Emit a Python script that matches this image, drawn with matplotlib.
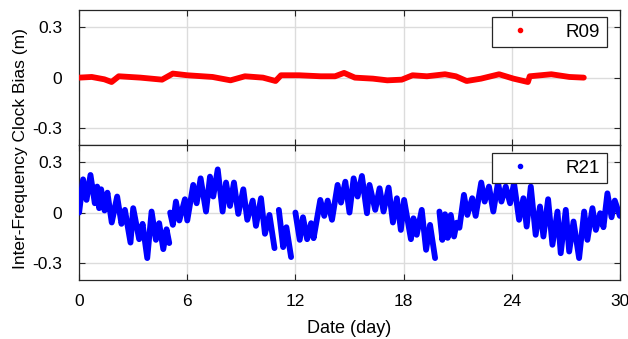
import numpy as np
import matplotlib as mpl
mpl.use('Agg')
import matplotlib.pyplot as plt
from matplotlib.lines import Line2D

plt.rcParams.update({'font.family': ['Liberation Sans', 'DejaVu Sans'],
                     'font.size': 12.5})

# R09 inter-frequency clock bias (m)
r09_day = [0.0, 0.7, 1.4, 1.8, 2.2, 3.4, 4.6, 5.2, 6.0, 7.4, 8.4, 9.2, 10.2,
           10.9, 11.2, 12.2, 13.4, 14.2, 14.7, 15.3, 16.3, 17.1, 17.9, 18.5,
           19.3, 20.3, 20.9, 21.5, 22.3, 23.3, 24.1, 24.9, 25.0, 26.2, 27.2, 28.0]
r09_bias = [0.0, 0.004, -0.01, -0.026, 0.008, 0.0, -0.012, 0.024, 0.014, 0.004,
            -0.016, 0.008, 0.0, -0.02, 0.014, 0.014, 0.008, 0.008, 0.028, 0.0,
            -0.006, -0.016, -0.012, 0.014, 0.008, 0.02, 0.008, -0.02, -0.006,
            0.02, -0.006, -0.026, 0.008, 0.02, 0.004, 0.0]

# R21 turning points (peaks / troughs); nan marks a data gap
r21_day = [0.0, 0.22, 0.41, 0.63, 0.87, 1.0, 1.11, 1.22, 1.41, 1.57, 1.81, 2.11,
           2.35, 2.54, 2.85, 3.0, 3.33, 3.52, 3.78, 4.02, 4.26, 4.44, 4.67, 4.85,
           5.0, np.nan,
           5.05, 5.2, 5.37, 5.56, 5.87, 6.0, 6.33, 6.52, 6.74, 7.04, 7.26, 7.44,
           7.69, 7.96, 8.15, 8.37, 8.59, 8.83, 9.11, 9.33, 9.63, 9.81, 10.09,
           10.31, 10.56, 10.84, np.nan,
           11.08, 11.32, 11.5, 11.76, np.nan,
           12.0, 12.24, 12.42, 12.65, 12.87, 13.01, 13.38, 13.6, 13.79, 14.03,
           14.34, 14.53, 14.77, 15.0, 15.23, 15.45, 15.69, 15.97, 16.11, 16.43,
           16.67, 16.89, 17.17, 17.41, 17.63, 17.85, 18.03, 18.41, 18.55, 18.73,
           19.01, 19.25, 19.47, 19.75, np.nan,
           19.99, 20.15, 20.3, 20.45, 20.62, 20.8, 20.95, 21.1, 21.35, 21.54,
           21.81, 22.0, 22.31, 22.5, 22.74, 22.98, 23.24, 23.43, 23.67, 23.91,
           24.13, 24.41, 24.65, 24.83, 25.06, 25.33, 25.57, 25.76, 26.02, 26.26,
           26.54, 26.72, 27.0, 27.19, 27.43, 27.74, 28.02, 28.2, 28.48, 28.67,
           28.91, 29.09, 29.31, 29.54, 29.72, 30.0]
r21_bias = [0.0, 0.197, 0.075, 0.223, 0.055, 0.154, 0.026, 0.138, 0.012, 0.118,
            -0.059, 0.095, -0.067, 0.016, -0.178, 0.026, -0.158, -0.067, -0.27,
            0.006, -0.162, -0.063, -0.217, -0.099, -0.181, np.nan,
            0.0, -0.073, 0.065, -0.047, 0.079, -0.047, 0.164, 0.055, 0.203,
            0.006, 0.213, 0.095, 0.256, 0.006, 0.178, 0.039, 0.178, -0.008,
            0.138, -0.043, 0.071, -0.079, 0.085, -0.126, -0.014, -0.211, np.nan,
            0.016, -0.205, -0.087, -0.264, np.nan,
            0.0, -0.162, -0.028, -0.158, -0.063, -0.152, 0.075, -0.02, 0.071,
            -0.043, 0.164, 0.059, 0.183, 0.0, 0.203, 0.095, 0.217, -0.004, 0.164,
            0.016, 0.144, 0.006, 0.148, -0.059, 0.085, -0.103, 0.075, -0.158,
            -0.034, -0.132, 0.016, -0.221, -0.073, -0.27, np.nan,
            0.006, -0.162, -0.01, -0.15, -0.014, -0.142, -0.06, -0.09, 0.105,
            -0.014, 0.085, -0.02, 0.178, 0.065, 0.154, 0.006, 0.178, 0.065, 0.154,
            0.055, 0.174, -0.043, 0.085, -0.083, 0.154, -0.132, 0.036, -0.142,
            0.079, -0.191, 0.006, -0.241, 0.016, -0.231, -0.053, -0.27, 0.006,
            -0.162, 0.026, -0.103, -0.004, -0.087, 0.114, -0.028, 0.071, -0.02]

x_ticks = [0, 6, 12, 18, 24, 30]
y_ticks = [-0.3, 0, 0.3]
y_ticklabels = ['-0.3', '0', '0.3']

fig = plt.figure(figsize=(6.28, 3.39), dpi=100)
left, right = 0.126, 0.987
bottom, mid, top = 0.174, 0.572, 0.970
ax1 = fig.add_axes([left, mid, right - left, top - mid])
ax2 = fig.add_axes([left, bottom, right - left, mid - bottom], sharex=ax1)

series = [(ax1, r09_day, r09_bias, '#ff0000', 'R09', 0.948),
          (ax2, r21_day, r21_bias, '#0000ff', 'R21', 0.941)]
for ax, d, b, c, name, ytop in series:
    ax.plot(d, b, color=c, linewidth=4.2, solid_joinstyle='round',
            solid_capstyle='round', zorder=3)
    ax.set_xlim(0, 30)
    ax.set_ylim(-0.4, 0.4)
    ax.set_xticks(x_ticks)
    ax.set_yticks(y_ticks)
    ax.set_yticklabels(y_ticklabels)
    ax.grid(True, color='#dcdcdc', linewidth=1.0)
    ax.set_axisbelow(True)
    ax.tick_params(direction='in', top=True, right=True, length=4,
                   width=0.8, color='#262626', labelsize=12.5)
    ax.tick_params(axis='y', pad=12)
    ax.tick_params(axis='x', pad=10)
    for s in ax.spines.values():
        s.set_color('#262626')
        s.set_linewidth(0.9)
    handle = Line2D([], [], linestyle='none', marker='.', color=c,
                    markersize=6)
    leg = ax.legend([handle], [name], loc='upper right',
                    bbox_to_anchor=(0.976, ytop), borderaxespad=0,
                    fancybox=False, framealpha=1, edgecolor='#262626',
                    fontsize=13.5, handlelength=2.3, handletextpad=1.3,
                    borderpad=0.35)
    leg.get_frame().set_linewidth(0.9)

ax1.tick_params(labelbottom=False)
ax2.set_xlabel('Date (day)', fontsize=13, labelpad=8)
fig.text(0.033, (bottom + top) / 2 - 0.01, 'Inter-Frequency Clock Bias (m)',
         rotation=90, va='center', ha='center', fontsize=12.5)

fig.savefig('out.png', dpi=100)
